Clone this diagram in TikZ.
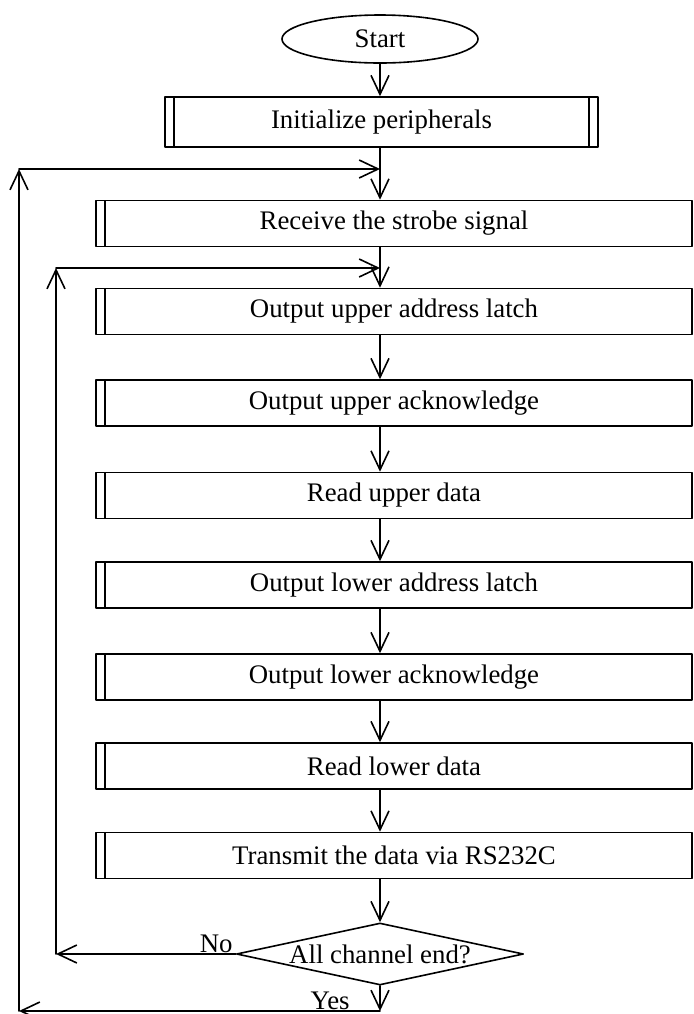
\documentclass[tikz,border=0pt]{standalone}
\usepackage{fontspec}
\setmainfont{Liberation Serif}
\usetikzlibrary{arrows.meta,shapes.geometric}
\tikzset{
  every picture/.style={font=\fontsize{13.4}{16}\selectfont, line join=round, line cap=round, >={Straight Barb[length=9.5pt,width=9pt]}},
  flow/.style={line width=0.8pt},
  procbox/.style={draw, flow, minimum width=298pt, minimum height=23pt, inner sep=0pt,
    path picture={\draw[flow] ([xshift=4.5pt]path picture bounding box.north west)--([xshift=4.5pt]path picture bounding box.south west);}},
  initbox/.style={draw, flow, minimum width=216.5pt, minimum height=25pt, inner sep=0pt,
    path picture={\draw[flow] ([xshift=4.5pt]path picture bounding box.north west)--([xshift=4.5pt]path picture bounding box.south west)
      ([xshift=-4.5pt]path picture bounding box.north east)--([xshift=-4.5pt]path picture bounding box.south east);}},
}

\begin{document}
\begin{tikzpicture}[x=0.5pt,y=-0.5pt]
\useasboundingbox (0,0) rectangle (693,1014);
\node[draw,flow,ellipse,minimum width=98pt,minimum height=24pt,inner sep=0pt] (start) at (380,39) {Start};
\node[initbox] (init) at (381.5,122) {Initialize peripherals};
\node[procbox] (recv) at (394,223.5) {Receive the strobe signal};
\node[procbox] (upaddr) at (394,311.5) {Output upper address latch};
\node[procbox] (upack) at (394,403) {Output upper acknowledge};
\node[procbox] (uprd) at (394,495.5) {Read upper data};
\node[procbox] (loaddr) at (394,585) {Output lower address latch};
\node[procbox] (loack) at (394,677) {Output lower acknowledge};
\node[procbox] (lord) at (394,766) {Read lower data};
\node[procbox] (send) at (394,855.5) {Transmit the data via RS232C};
\node[draw,flow,diamond,shape aspect=5,minimum width=143.5pt,minimum height=31pt,inner sep=0pt] (ask) at (380,954) {\raisebox{-2pt}{All channel end?}};
\coordinate (back) at (380,169);
\coordinate (next) at (380,268);
\coordinate (done) at (380,1011);
\coordinate (outbot) at (19,1011);
\coordinate (outtop) at (19,169);
\coordinate (inbot) at (56,954);
\coordinate (intop) at (56,268);
\draw[flow,->] (start.south) -- (start.south |- init.north);
\draw[flow,->] (init.south -| start) -- (recv.north -| start);
\draw[flow,->] (recv.south -| start) -- (upaddr.north -| start);
\draw[flow,->] (upaddr.south -| start) -- (upack.north -| start);
\draw[flow,->] (upack.south -| start) -- (uprd.north -| start);
\draw[flow,->] (uprd.south -| start) -- (loaddr.north -| start);
\draw[flow,->] (loaddr.south -| start) -- (loack.north -| start);
\draw[flow,->] (loack.south -| start) -- (lord.north -| start);
\draw[flow,->] (lord.south -| start) -- (send.north -| start);
\draw[flow,->] (send.south -| start) -- (ask.north);
\draw[flow,->] (ask.south) -- (done);
\draw[flow,->] (done) -- (outbot);
\draw[flow,->] (outbot) -- (outtop);
\draw[flow,->] (outtop) -- (back);
\draw[flow,->] (ask.west) -- (inbot);
\draw[flow,->] (inbot) -- (intop);
\draw[flow,->] (intop) -- (next);
\node[anchor=base east,inner sep=0pt] (no) at (233,952) {No};
\node[anchor=base east,inner sep=0pt] (yes) at (350,1009) {Yes};
\end{tikzpicture}
\end{document}
